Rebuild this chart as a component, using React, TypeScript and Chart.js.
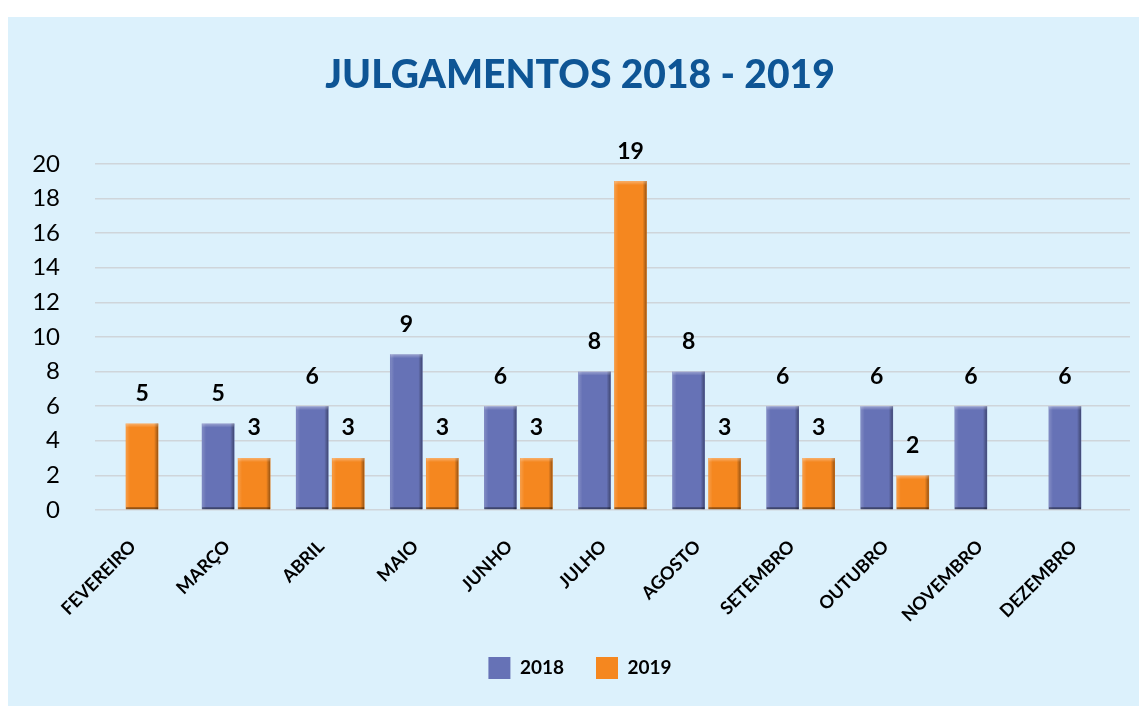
import React, { useEffect, useRef } from 'react';
import { Chart, registerables } from 'chart.js';

Chart.register(...registerables);

const categories = ['FEVEREIRO', 'MARÇO', 'ABRIL', 'MAIO', 'JUNHO', 'JULHO', 'AGOSTO', 'SETEMBRO', 'OUTUBRO', 'NOVEMBRO', 'DEZEMBRO'];
const values2018: (number | null)[] = [null, 5, 6, 9, 6, 8, 8, 6, 6, 6, 6];
const values2019: (number | null)[] = [5, 3, 3, 3, 3, 19, 3, 3, 2, null, null];
const seriesNames = ['2018', '2019'];
const titleText = 'JULGAMENTOS 2018 - 2019';
const yMin = 0;
const yMax = 20;
const yStep = 2;

const BG = '#DCF1FC';
const BLUE = '#6672B6';
const ORANGE = '#F5871F';
const FONT = "Lato, 'Open Sans', sans-serif";

const bgPlugin = {
  id: 'bgFill',
  beforeDraw(chart: any) {
    const { ctx, width, height } = chart;
    ctx.save();
    ctx.fillStyle = BG;
    ctx.fillRect(0, 0, width, height);
    ctx.restore();
  },
};

const shadePlugin = {
  id: 'barShade',
  afterDatasetsDraw(chart: any) {
    const { ctx } = chart;
    chart.data.datasets.forEach((ds: any, di: number) => {
      const meta = chart.getDatasetMeta(di);
      meta.data.forEach((el: any, i: number) => {
        const v = ds.data[i];
        if (v === null || v === undefined) return;
        const left = el.x - el.width / 2 + 2;
        const right = el.x + el.width / 2 - 2;
        const top = Math.min(el.y, el.base);
        const bottom = Math.max(el.y, el.base);
        ctx.save();
        let g = ctx.createLinearGradient(left, 0, left + 4, 0);
        g.addColorStop(0, 'rgba(255,255,255,0.18)');
        g.addColorStop(1, 'rgba(255,255,255,0)');
        ctx.fillStyle = g;
        ctx.fillRect(left, top, 4, bottom - top);
        g = ctx.createLinearGradient(right - 4, 0, right, 0);
        g.addColorStop(0, 'rgba(0,0,0,0)');
        g.addColorStop(1, 'rgba(0,0,0,0.38)');
        ctx.fillStyle = g;
        ctx.fillRect(right - 4, top, 4, bottom - top);
        g = ctx.createLinearGradient(0, top, 0, top + 4);
        g.addColorStop(0, 'rgba(255,255,255,0.35)');
        g.addColorStop(1, 'rgba(255,255,255,0)');
        ctx.fillStyle = g;
        ctx.fillRect(left, top, right - left, 4);
        ctx.fillStyle = 'rgba(0,0,0,0.4)';
        ctx.fillRect(left, bottom - 2, right - left, 2);
        ctx.restore();
      });
    });
  },
};

const valueLabelPlugin = {
  id: 'valueLabels',
  afterDatasetsDraw(chart: any) {
    const { ctx } = chart;
    ctx.save();
    ctx.font = `bold 23px ${FONT}`;
    ctx.fillStyle = '#000000';
    ctx.textAlign = 'center';
    ctx.textBaseline = 'middle';
    chart.data.datasets.forEach((ds: any, di: number) => {
      const meta = chart.getDatasetMeta(di);
      meta.data.forEach((el: any, i: number) => {
        const v = ds.data[i];
        if (v === null || v === undefined) return;
        ctx.fillText(String(v), el.x, el.y - 30);
      });
    });
    ctx.restore();
  },
};

export default function App() {
  const canvasRef = useRef<HTMLCanvasElement | null>(null);

  useEffect(() => {
    if (!canvasRef.current) return;
    const barCommon = {
      barThickness: 36,
      borderWidth: { left: 2, right: 2, top: 0, bottom: 0 },
      borderColor: 'rgba(0,0,0,0)',
      borderSkipped: false,
    };
    const chart = new Chart(canvasRef.current, {
      type: 'bar',
      data: {
        labels: categories,
        datasets: [
          { label: seriesNames[0], data: values2018, backgroundColor: BLUE, skipNull: false, ...barCommon } as any,
          { label: seriesNames[1], data: values2019, backgroundColor: ORANGE, skipNull: true, ...barCommon } as any,
        ],
      },
      options: {
        animation: false,
        responsive: true,
        maintainAspectRatio: false,
        layout: { padding: { top: 0, left: 22, right: 9, bottom: 17 } },
        plugins: {
          title: {
            display: true,
            text: titleText,
            color: '#0E5595',
            font: { family: FONT, size: 39, weight: 900 },
            padding: { top: 35, bottom: 65 },
          },
          legend: {
            display: true,
            position: 'bottom',
            labels: {
              boxWidth: 22,
              boxHeight: 22,
              padding: 32,
              color: '#000000',
              font: { family: FONT, size: 19, weight: 'bold' },
            },
          },
          tooltip: { enabled: false },
        },
        scales: {
          x: {
            grid: { display: false, drawTicks: false },
            border: { display: false },
            ticks: {
              autoSkip: false,
              minRotation: 45,
              maxRotation: 45,
              padding: 26,
              labelOffset: -9,
              color: '#000000',
              font: { family: FONT, size: 18, weight: 'bold' },
            },
            afterFit(scale: any) {
              scale.height = 115;
            },
          },
          y: {
            min: yMin,
            max: yMax,
            ticks: {
              stepSize: yStep,
              padding: 35,
              color: '#000000',
              font: { family: FONT, size: 24 },
            },
            grid: { color: '#CFD5DA', lineWidth: 1.5, drawTicks: false },
            border: { display: false },
            afterFit(scale: any) {
              scale.width = 65;
            },
          },
        },
      } as any,
      plugins: [bgPlugin, shadePlugin, valueLabelPlugin],
    });
    return () => chart.destroy();
  }, []);

  return (
    <div style={{ position: 'fixed', left: 8, top: 17, width: 1131, height: 689 }}>
      <canvas ref={canvasRef} />
    </div>
  );
}
